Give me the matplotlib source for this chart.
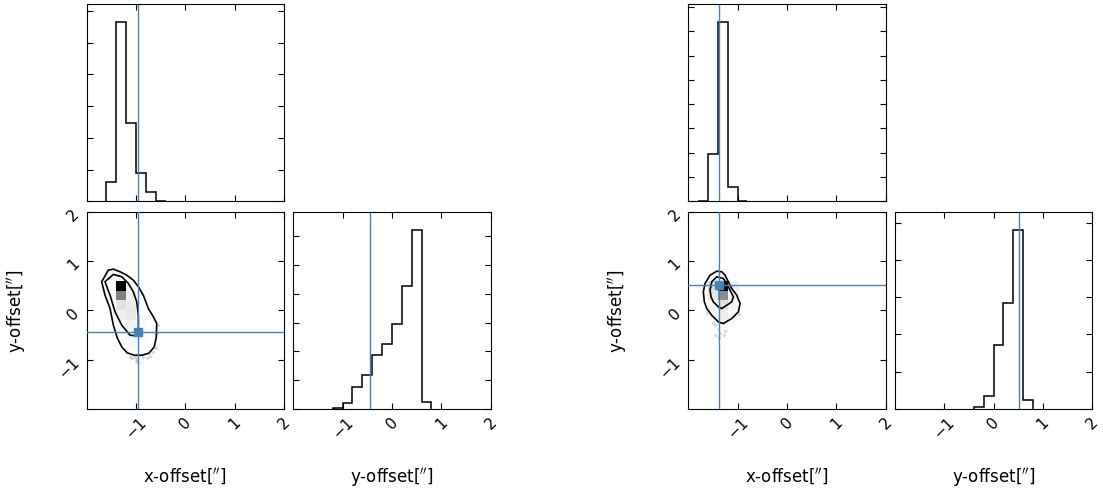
import numpy as np
import matplotlib
matplotlib.use('Agg')
import matplotlib.pyplot as plt
from matplotlib.colors import LinearSegmentedColormap
from matplotlib.ticker import MultipleLocator

# --- Data ---
# marginal histograms (edges in arcsec, heights in counts)
left_x_edges = [-1.6, -1.4, -1.2, -1.0, -0.8, -0.6, -0.4]
left_x_counts = [311, 2828, 1242, 439, 143, 11]
left_y_edges = [-1.2, -1.0, -0.8, -0.6, -0.4, -0.2, 0.0, 0.2, 0.4, 0.6, 0.8]
left_y_counts = [5, 42, 151, 235, 374, 453, 593, 854, 1246, 51]

right_x_edges = [-1.8, -1.6, -1.4, -1.2, -1.0, -0.8]
right_x_counts = [10, 975, 3695, 290, 14]
right_y_edges = [-0.4, -0.2, 0.0, 0.2, 0.4, 0.6, 0.8]
right_y_counts = [27, 174, 859, 1418, 2407, 116]

axis_ticks = [-1, 0, 1, 2]

# truth values
left_truth = (-0.97, -0.44)
right_truth = (-1.37, 0.52)

# 2D density (darkness 0..1), x bins -1.8..-0.6, y bins -1.0..0.8 (rows bottom->top)
dens_xedges = [-1.8, -1.6, -1.4, -1.2, -1.0, -0.8, -0.6]
dens_yedges = [-1.0, -0.8, -0.6, -0.4, -0.2, 0.0, 0.2, 0.4, 0.6, 0.8]
left_dens = [
    [0, 0, 0, 0, 0, 0],
    [0, 0, 0, 0.02, 0.01, 0],
    [0, 0, 0.01, 0.04, 0.02, 0],
    [0, 0, 0.02, 0.05, 0.02, 0],
    [0, 0, 0.06, 0.09, 0, 0],
    [0, 0, 0.11, 0.08, 0, 0],
    [0, 0.02, 0.5, 0.06, 0, 0],
    [0, 0.03, 1.0, 0.04, 0, 0],
    [0, 0, 0.02, 0, 0, 0],
]
right_dens = [
    [0, 0, 0, 0, 0, 0],
    [0, 0, 0, 0, 0, 0],
    [0, 0, 0, 0, 0, 0],
    [0, 0, 0.02, 0.01, 0, 0],
    [0, 0.02, 0.06, 0.03, 0, 0],
    [0, 0.05, 0.12, 0.04, 0, 0],
    [0, 0.1, 0.45, 0.05, 0, 0],
    [0, 0.12, 1.0, 0.06, 0, 0],
    [0, 0, 0.03, 0, 0, 0],
]

# contour outlines (x, y)
left_outer_x = [-1.562, -1.696, -1.629, -1.527, -1.460, -1.380, -1.290, -1.180, -1.040, -0.880, -0.740,
                -0.630, -0.590, -0.580, -0.649, -0.751, -0.852, -0.953, -1.055, -1.189, -1.325, -1.460]
left_outer_y = [0.815, 0.580, 0.308, 0.039, -0.300, -0.560, -0.740, -0.860, -0.910, -0.910, -0.870,
                -0.740, -0.550, -0.266, -0.130, 0.039, 0.308, 0.479, 0.613, 0.714, 0.783, 0.836]
left_inner_x = [-1.460, -1.629, -1.527, -1.426, -1.290, -1.122, -1.020, -0.953, -0.953, -0.986,
                -1.055, -1.156, -1.290]
left_inner_y = [0.728, 0.580, 0.308, -0.028, -0.300, -0.503, -0.515, -0.402, -0.097, 0.174,
                0.377, 0.546, 0.682]
right_outer_x = [-1.423, -1.559, -1.661, -1.695, -1.675, -1.626, -1.525, -1.391, -1.289, -1.119,
                 -0.985, -0.950, -1.017, -1.119, -1.188, -1.255, -1.322]
right_outer_y = [0.794, 0.713, 0.544, 0.376, 0.173, 0.037, -0.100, -0.234, -0.268, -0.166,
                 -0.030, 0.138, 0.307, 0.443, 0.579, 0.713, 0.782]
right_inner_x = [-1.423, -1.525, -1.559, -1.539, -1.492, -1.391, -1.322, -1.220, -1.119, -1.086,
                 -1.153, -1.220, -1.289]
right_inner_y = [0.680, 0.579, 0.408, 0.274, 0.173, 0.071, 0.037, 0.104, 0.173, 0.274,
                 0.408, 0.544, 0.646]

# stray samples outside the contours
left_pts_x = [-1.13, -1.08, -1.03, -0.98, -0.85, -0.78, -0.72, -0.66, -0.60, -0.95, -1.00, -0.58, -0.56]
left_pts_y = [-0.95, -0.97, -0.94, -0.99, -0.95, -0.96, -0.92, -0.85, -0.76, -1.05, -1.02, -0.45, -0.30]
right_pts_x = [-1.62, -1.55, -1.50, -1.45, -1.40, -1.35, -1.30, -1.25, -1.20, -1.15, -1.05, -0.98, -1.38, -1.28, -1.45]
right_pts_y = [-0.05, -0.15, -0.25, -0.30, -0.38, -0.45, -0.35, -0.42, -0.30, -0.25, -0.15, -0.08, -0.55, -0.50, -0.50]

xlabel = r"x-offset[$''$]"
ylabel = r"y-offset[$''$]"

truth_color = '#4682b4'
FS = 11
LFS = 12

fig = plt.figure(figsize=(11.03, 4.89), dpi=100)
W, H = 1103.0, 489.0
size = 197.3


def make_ax(left_px, top_px):
    return fig.add_axes([left_px / W, (H - top_px - size) / H, size / W, size / H])


def style(ax):
    ax.tick_params(direction='in', top=True, right=True, length=4, labelsize=FS)
    ax.set_xlim(-2, 2)
    ax.set_xticks(axis_ticks)


def draw_corner(x0, xe, xc, ye, yc, truth, dens, ox, oy, ix, iy, px, py, ystep_x, ystep_y):
    ax_top = make_ax(x0, 5.0)
    ax_2d = make_ax(x0, 212.7)
    ax_yh = make_ax(x0 + 206.6, 212.7)

    # top marginal
    ax_top.stairs(xc, xe, color='k', lw=1.1)
    ax_top.set_ylim(0, 1.1 * max(xc))
    ax_top.axvline(truth[0], color=truth_color, lw=1.0)
    style(ax_top)
    ax_top.yaxis.set_major_locator(MultipleLocator(ystep_x))
    ax_top.set_xticklabels([])
    ax_top.set_yticklabels([])

    # 2D panel
    ax_2d.plot(px, py, 'o', color='k', ms=2.5, mec='none', alpha=0.15, zorder=1)
    ax_2d.fill(ox, oy, color='white', zorder=2, lw=0)
    cmap = LinearSegmentedColormap.from_list('dens', ['white', 'black'])
    d = np.ma.masked_equal(np.array(dens), 0)
    ax_2d.pcolormesh(dens_xedges, dens_yedges, d, cmap=cmap, vmin=0, vmax=1, zorder=3)
    ax_2d.fill(ox, oy, fill=False, ec='k', lw=1.2, zorder=4)
    ax_2d.fill(ix, iy, fill=False, ec='k', lw=1.2, zorder=4)
    ax_2d.axvline(truth[0], color=truth_color, lw=1.0, zorder=5)
    ax_2d.axhline(truth[1], color=truth_color, lw=1.0, zorder=5)
    ax_2d.plot(truth[0], truth[1], 's', color=truth_color, ms=6, zorder=6)
    style(ax_2d)
    ax_2d.set_ylim(-2, 2)
    ax_2d.set_yticks(axis_ticks)
    for lab in ax_2d.get_xticklabels() + ax_2d.get_yticklabels():
        lab.set_rotation(45)
    ax_2d.set_xlabel(xlabel, fontsize=LFS)
    ax_2d.set_ylabel(ylabel, fontsize=LFS)
    ax_2d.xaxis.set_label_coords(0.5, -0.285)
    ax_2d.yaxis.set_label_coords(-0.3, 0.5)

    # right marginal
    ax_yh.stairs(yc, ye, color='k', lw=1.1)
    ax_yh.set_ylim(0, 1.1 * max(yc))
    ax_yh.axvline(truth[1], color=truth_color, lw=1.0)
    style(ax_yh)
    ax_yh.yaxis.set_major_locator(MultipleLocator(ystep_y))
    ax_yh.set_yticklabels([])
    for lab in ax_yh.get_xticklabels():
        lab.set_rotation(45)
    ax_yh.set_xlabel(ylabel, fontsize=LFS)
    ax_yh.xaxis.set_label_coords(0.5, -0.285)


draw_corner(86.7, left_x_edges, left_x_counts, left_y_edges, left_y_counts, left_truth, left_dens,
            left_outer_x, left_outer_y, left_inner_x, left_inner_y, left_pts_x, left_pts_y, 500, 200)
draw_corner(688.3, right_x_edges, right_x_counts, right_y_edges, right_y_counts, right_truth, right_dens,
            right_outer_x, right_outer_y, right_inner_x, right_inner_y, right_pts_x, right_pts_y, 500, 500)

fig.savefig('out.png', dpi=100)
